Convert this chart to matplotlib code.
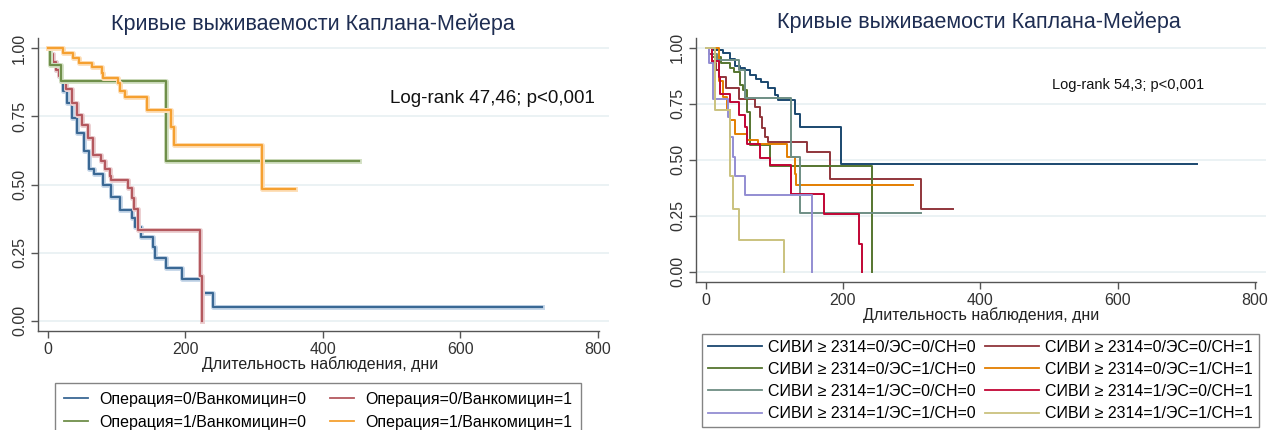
import matplotlib
matplotlib.use('Agg')
from matplotlib import pyplot as plt
from matplotlib import patheffects as pe
from matplotlib.lines import Line2D

plt.rcParams['font.family'] = ['Liberation Sans', 'DejaVu Sans']

W, H = 1269, 430

title = 'Кривые выживаемости Каплана-Мейера'
xlabel = 'Длительность наблюдения, дни'
x_ticks = [0, 200, 400, 600, 800]
y_ticks = [0.0, 0.25, 0.5, 0.75, 1.0]
y_tick_labels = ['0.00', '0.25', '0.50', '0.75', '1.00']

# левая панель: операция / ванкомицин
left_labels = ['Операция=0/Ванкомицин=0', 'Операция=0/Ванкомицин=1',
               'Операция=1/Ванкомицин=0', 'Операция=1/Ванкомицин=1']
left_colors = ['#3a6894', '#b4585e', '#6f8f4a', '#f5a030']
left_halo = ['#c9d9ea', '#ecd0d2', '#d5e2c6', '#fde0bb']

op0_v0_t = [0, 3, 8, 12, 16, 20, 23, 28, 35, 43, 53, 60, 68, 81, 92, 105, 123, 127, 135, 153, 156, 172, 195, 224, 240, 718]
op0_v0_s = [1, 0.98, 0.95, 0.92, 0.90, 0.88, 0.843, 0.80, 0.745, 0.69, 0.624, 0.556, 0.54, 0.50, 0.455, 0.406, 0.376, 0.344, 0.308, 0.27, 0.23, 0.193, 0.153, 0.10, 0.051, 0.051]
op0_v1_t = [0, 3, 8, 12, 16, 20, 27, 35, 43, 50, 58, 66, 77, 84, 90, 92, 117, 122, 125, 131, 132, 222, 225]
op0_v1_s = [1, 0.98, 0.95, 0.92, 0.90, 0.88, 0.85, 0.80, 0.757, 0.72, 0.67, 0.61, 0.586, 0.556, 0.53, 0.516, 0.486, 0.45, 0.41, 0.37, 0.332, 0.164, 0]
op1_v0_t = [0, 4, 20, 172, 452]
op1_v0_s = [1, 0.94, 0.88, 0.588, 0.588]
op1_v1_t = [0, 23, 37, 45, 64, 79, 81, 103, 105, 113, 145, 179, 183, 312, 360]
op1_v1_s = [1, 0.982, 0.963, 0.945, 0.93, 0.908, 0.89, 0.872, 0.845, 0.82, 0.772, 0.71, 0.645, 0.483, 0.483]

left_curves = [(op0_v0_t, op0_v0_s), (op0_v1_t, op0_v1_s),
               (op1_v0_t, op1_v0_s), (op1_v1_t, op1_v1_s)]

# правая панель: СИВИ / ЭС / СН
right_labels = ['СИВИ ≥ 2314=0/ЭС=0/СН=0', 'СИВИ ≥ 2314=0/ЭС=0/СН=1',
                'СИВИ ≥ 2314=0/ЭС=1/СН=0', 'СИВИ ≥ 2314=0/ЭС=1/СН=1',
                'СИВИ ≥ 2314=1/ЭС=0/СН=0', 'СИВИ ≥ 2314=1/ЭС=0/СН=1',
                'СИВИ ≥ 2314=1/ЭС=1/СН=0', 'СИВИ ≥ 2314=1/ЭС=1/СН=1']
right_colors = ['#1a476f', '#90353b', '#55752f', '#e37e00',
                '#6e8e84', '#c10534', '#938dd2', '#cac27e']

s000_t = [0, 10, 26, 36, 43, 50, 57, 65, 74, 81, 91, 101, 106, 130, 137, 197, 715]
s000_s = [1, 0.99, 0.975, 0.95, 0.92, 0.91, 0.90, 0.877, 0.862, 0.847, 0.82, 0.79, 0.765, 0.705, 0.646, 0.482, 0.482]
s001_t = [0, 5, 9, 15, 20, 30, 48, 72, 79, 82, 86, 91, 147, 181, 314, 360]
s001_s = [1, 0.97, 0.93, 0.90, 0.87, 0.82, 0.77, 0.735, 0.69, 0.64, 0.60, 0.58, 0.534, 0.414, 0.278, 0.278]
s010_t = [0, 9, 23, 36, 41, 50, 55, 60, 65, 94, 242]
s010_s = [1, 0.96, 0.93, 0.91, 0.89, 0.833, 0.81, 0.714, 0.564, 0.47, 0]
s011_t = [0, 19, 26, 31, 36, 43, 60, 77, 118, 130, 132, 302]
s011_s = [1, 0.85, 0.78, 0.72, 0.675, 0.616, 0.586, 0.568, 0.51, 0.437, 0.385, 0.385]
s100_t = [0, 10, 16, 48, 57, 125, 137, 314]
s100_s = [1, 0.97, 0.946, 0.90, 0.774, 0.51, 0.26, 0.26]
s101_t = [0, 9, 19, 21, 36, 48, 57, 60, 79, 94, 125, 173, 224, 228]
s101_s = [1, 0.94, 0.87, 0.795, 0.757, 0.70, 0.646, 0.57, 0.507, 0.475, 0.348, 0.259, 0.125, 0]
s110_t = [0, 5, 11, 33, 36, 40, 43, 57, 155]
s110_s = [1, 0.93, 0.77, 0.69, 0.60, 0.51, 0.427, 0.34, 0]
s111_t = [0, 14, 35, 40, 48, 114]
s111_s = [1, 0.72, 0.427, 0.28, 0.14, 0]

right_curves = [(s000_t, s000_s), (s001_t, s001_s), (s010_t, s010_s), (s011_t, s011_s),
                (s100_t, s100_s), (s101_t, s101_s), (s110_t, s110_s), (s111_t, s111_s)]


def px_axes(fig, left, top, right, bottom):
    return fig.add_axes([left / W, 1 - bottom / H, (right - left) / W, (bottom - top) / H])


def style_axes(ax, ylim):
    ax.set_xlim(-14, 816)
    ax.set_ylim(*ylim)
    ax.set_xticks(x_ticks)
    ax.set_yticks(y_ticks)
    ax.set_yticklabels(y_tick_labels, rotation=90, va='center')
    ax.tick_params(direction='out', length=5, width=1, color='#555555',
                   labelsize=11.5, labelcolor='#333333', pad=3)
    for side in ['top', 'right']:
        ax.spines[side].set_visible(False)
    for side in ['left', 'bottom']:
        ax.spines[side].set_color('#555555')
        ax.spines[side].set_linewidth(1)
    ax.spines['bottom'].set_bounds(-14, 802)
    ax.grid(axis='y', color='#e8f0f2', linewidth=1.2)
    ax.set_axisbelow(True)


def row_order(items, ncol):
    # stata заполняет легенду по строкам, matplotlib - по столбцам
    return [items[i] for c in range(ncol) for i in range(c, len(items), ncol)]


fig = plt.figure(figsize=(W / 100, H / 100), dpi=100)

# ---- левая панель
ax1 = px_axes(fig, 38, 38, 609, 331)
style_axes(ax1, (-0.038, 1.038))
for (t, s), c, h in zip(left_curves, left_colors, left_halo):
    ax1.plot(t, s, drawstyle='steps-post', color=c, linewidth=1.6,
             path_effects=[pe.Stroke(linewidth=3.6, foreground=h), pe.Normal()])
ax1.text(795, 0.815, 'Log-rank 47,46; p<0,001', ha='right', va='center',
         fontsize=13.5, color='#111111')
fig.text(313 / W, 1 - 24 / H, title, ha='center', va='center', fontsize=15.5, color='#1e2d52')
fig.text(320 / W, 1 - 364 / H, xlabel, ha='center', va='center', fontsize=11.5, color='#222222')

h1 = [Line2D([], [], color=c, linewidth=1.3) for c in left_colors]
leg1 = fig.legend(row_order(h1, 2), row_order(left_labels, 2), ncol=2, loc='upper left',
                  bbox_to_anchor=(55 / W, 1 - 383 / H), borderaxespad=0,
                  frameon=True, fancybox=False,
                  fontsize=11.5, handlelength=1.5, handletextpad=0.7, columnspacing=1.5,
                  labelspacing=0.5, borderpad=0.55, edgecolor='#666666')
leg1.get_frame().set_linewidth(1)

# ---- правая панель
ax2 = px_axes(fig, 696, 38, 1266, 281.7)
style_axes(ax2, (-0.045, 1.043))
for (t, s), c in zip(right_curves, right_colors):
    ax2.plot(t, s, drawstyle='steps-post', color=c, linewidth=1.4)
ax2.text(726, 0.833, 'Log-rank 54,3; p<0,001', ha='right', va='center',
         fontsize=10.5, color='#111111')
fig.text(979 / W, 1 - 22 / H, title, ha='center', va='center', fontsize=15.5, color='#1e2d52')
fig.text(981 / W, 1 - 315 / H, xlabel, ha='center', va='center', fontsize=11.5, color='#222222')

h2 = [Line2D([], [], color=c, linewidth=1.3) for c in right_colors]
leg2 = fig.legend(row_order(h2, 2), row_order(right_labels, 2), ncol=2, loc='upper left',
                  bbox_to_anchor=(702 / W, 1 - 334 / H), borderaxespad=0,
                  frameon=True, fancybox=False,
                  fontsize=11.5, handlelength=3.4, handletextpad=0.4, columnspacing=0.55,
                  labelspacing=0.45, borderpad=0.35, edgecolor='#666666')
leg2.get_frame().set_linewidth(1)

fig.savefig('out.png', dpi=100)
